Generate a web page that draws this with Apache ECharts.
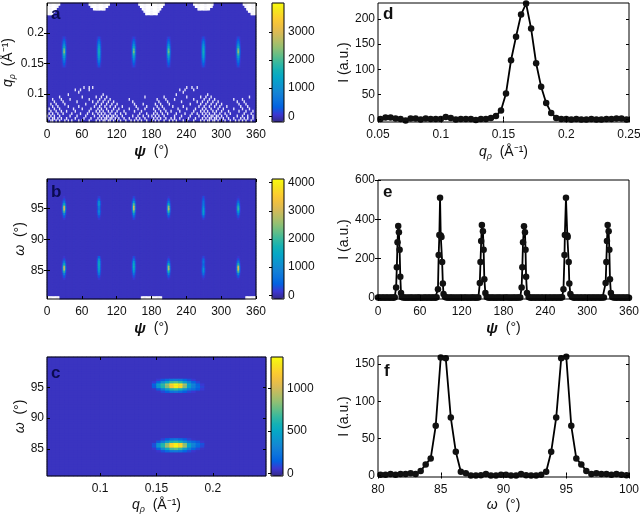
<!DOCTYPE html>
<html><head><meta charset="utf-8">
<style>html,body{margin:0;padding:0;background:#fff}#c{width:640px;height:514px}</style>
<script src="https://cdn.jsdelivr.net/npm/echarts@6/dist/echarts.min.js"></script>
</head><body><div id="c"></div>
<script>
// ---------- panel d ----------
const qD = [0.052,0.056,0.060,0.064,0.068,0.072,0.076,0.080,0.084,0.088,0.092,0.096,0.100,0.104,0.108,0.112,0.116,0.120,0.124,0.128,0.132,0.136,0.140,0.144,0.148,0.152,0.156,0.160,0.164,0.168,0.172,0.176,0.180,0.184,0.188,0.192,0.196,0.200,0.204,0.208,0.212,0.216,0.220,0.224,0.228,0.232,0.236,0.240,0.244,0.248];
const intensityD = [1,4,4,2,1,-2,2,2,0,2,1,1,1,5,3,0,1,1,1,-1,1,1,3,7,18,52,118,165,209,231,181,112,65,33,13,3,1,1,0,1,0,0,1,0,0,1,1,2,2,0];
// ---------- panel e ----------
const psiE = [0,2,4,6,8,10,12,14,16,18,20,22,24,
26,27,28,29,30,31,32,33,34,
36,38,40,42,44,46,48,50,52,54,56,58,60,62,64,66,68,70,72,74,76,78,80,82,84,
86,87,88,89,90,91,92,93,94,
96,98,100,102,104,106,108,110,112,114,116,118,120,122,124,126,128,130,132,134,136,138,140,142,144,
146,147,148,149,150.5,151.5,152.5,154,
156,158,160,162,164,166,168,170,172,174,176,178,180,182,184,186,188,190,192,194,196,198,200,202,204,
206,207,208,209.4,210.8,211.6,212.4,213.7,
216,218,220,222,224,226,228,230,232,234,236,238,240,242,244,246,248,250,252,254,256,258,260,262,264,
266,267.5,268,269.6,271.5,272,273.5,274.4,275.9,
278,280,282,284,286,288,290,292,294,296,298,300,302,304,306,308,310,312,314,316,318,320,322,324,
326.5,327.5,328.4,329.4,330.8,331.8,332.7,334,
336,338,340,342,344,346,348,350,352,354,356,358,360];
const intensityE = [2,3,1,2,3,1,2,2,1,3,2,1,4,
54,157,284,366,334,245,108,25,5,
3,2,1,2,1,2,3,1,2,1,2,2,3,1,1,2,2,1,2,3,1,2,2,1,4,
45,219,320,510,318,310,183,74,20,
6,3,2,1,2,2,1,3,1,2,1,2,2,1,3,2,1,2,1,2,2,3,1,2,3,
76,183,290,371,340,245,96,25,
5,2,1,2,3,1,2,1,2,3,1,2,1,2,2,3,1,2,1,2,2,1,3,2,3,
54,157,284,365,334,245,108,25,
5,2,1,3,2,1,2,2,1,3,2,1,2,2,1,2,3,1,2,2,1,2,3,1,4,
45,219,320,510,318,310,183,74,20,
6,3,1,2,2,1,3,2,1,2,2,1,2,3,1,2,2,1,2,3,1,2,2,3,
76,183,290,371,340,245,96,25,
5,2,2,1,3,2,1,2,2,1,3,2,1];
// ---------- panel f ----------
const omegaF = [80.2,80.6,81,81.4,81.8,82.2,82.6,83,83.4,83.8,84.2,84.6,85,85.4,85.8,86.2,86.6,87,87.4,87.8,88.2,88.6,89,89.4,89.8,90.2,90.6,91,91.4,91.8,92.2,92.6,93,93.4,93.8,94.2,94.6,95,95.4,95.8,96.2,96.6,97,97.4,97.8,98.2,98.6,99,99.4,99.8];
const intensityF = [1,1,2,1,2,2,3,2,6,15,23,67,159,158,78,32,5,3,0,0,0.5,2,0,0,1,1,0,0,2,0.5,0,0,1,5,32,78,158,160,67,23,15,6,2,3,2,2,1,2,1,0.5];
// ---------- panel a: cells that hold no data, one list of psi per q row ----------
const speckleRowsA = [
[0,6,9,15,21,30,36,42,54,60,72,84,90,96,99,105,108,114,120,126,135,144,150,156,162,171,180,186,192,201,210,216,222,234,240,252,264,270,276,279,285,288,294,300,306,315,324,330,336,342,351],
[3,9,12,18,24,33,48,63,75,87,93,99,102,108,111,117,123,132,141,153,159,168,183,189,195,204,213,219,228,243,255,267,273,279,282,288,291,297,303,312,321,333,339,345,354],
[0,6,12,21,39,51,66,81,90,96,102,105,111,114,120,129,147,156,165,174,180,186,192,201,219,231,246,261,270,276,282,285,291,294,300,309,327,336,345,354],
[3,9,18,27,42,57,69,78,87,93,99,108,117,126,135,159,171,183,189,198,207,222,237,249,258,267,273,279,288,297,306,315,339,351],
[6,15,24,33,48,72,84,90,96,105,111,120,132,150,162,186,195,204,213,228,252,264,270,276,285,291,300,312,330,342,354],
[3,12,21,45,60,75,87,93,102,114,123,141,156,168,183,192,201,225,240,255,267,273,282,294,303,321,336,348],
[9,18,36,54,81,90,99,108,117,129,153,171,189,198,216,234,261,270,279,288,297,309,333,345],
[6,15,30,66,84,93,102,111,120,150,165,186,195,210,246,264,273,282,291,300,330,342],
[12,27,51,78,87,96,105,114,147,192,207,231,258,267,276,285,294,327,339],
[9,24,39,72,90,99,108,141,189,204,219,252,270,279,288,321,336],
[21,60,84,93,102,168,201,240,264,273,282,348],
[36,96,222,276],
[54,234],
[48,57,72,228,237,252],
[63,72,78,240,249,258]];
// top notches of panel a: [row, psi from, psi to]
const notchesA = [
[49,0,22],[49,72,108],[49,157,203],[49,252,287],[49,338,360],
[48,0,19],[48,75,105],[48,160,200],[48,255,285],[48,341,360],
[47,0,16],[47,80,100],[47,163,197],[47,260,280],[47,344,360],
[46,0,13],[46,166,194],[46,347,360],
[45,0,10],[45,170,190],[45,351,360]];
// bottom-row gaps of panel b: [psi from, psi to]
const gapsB = [[0,21],[162,198],[342,360]];
// peaks of panel a: [psi, first row, centre columns, next columns, outer columns]
const peaksA = [
[30,23,[180,320,560,900,1300,1800,2400,2150,1500,1000,600,320,160],[90,150,260,420,600,800,1000,920,680,450,270,150,80],[20,40,60,100,140,180,220,200,160,110,70,40,20]],
[90,23,[220,400,680,980,1250,1450,1600,1520,1300,1000,680,400,200],[100,190,320,460,580,680,730,700,610,470,320,190,95],[25,45,75,110,140,160,170,165,145,110,75,45,25]],
[150,23,[170,310,550,880,1270,1750,2300,2050,1450,970,580,310,150],[85,145,255,410,590,780,960,880,660,440,260,145,75],[20,40,60,100,135,175,210,195,155,105,65,40,20]],
[210,23,[175,315,555,890,1280,1720,2250,2000,1450,990,590,315,155],[85,150,255,415,590,770,950,870,660,445,265,150,75],[20,40,60,100,135,175,210,190,155,105,65,40,20]],
[270,23,[215,390,670,960,1230,1420,1550,1480,1270,980,670,390,195],[100,185,315,450,570,670,710,680,600,460,315,185,90],[25,45,70,105,135,155,165,160,140,105,70,45,25]],
[330,23,[190,340,590,950,1360,1900,2550,2250,1570,1050,630,340,170],[95,160,275,440,630,840,1060,970,710,470,285,160,85],[20,40,65,105,145,190,235,215,165,115,75,40,20]]];
// peaks of panel b: same layout
const peaksB = [
[30,33,[150,420,1000,2100,3100,2900,1700,700,300,130],[100,170,380,780,1150,1080,650,280,130,80],[70,80,110,180,250,240,150,90,70,70]],
[30,8,[150,380,900,1900,2900,2750,1700,800,320,130],[100,170,350,720,1080,1030,650,310,140,80],[70,80,100,170,240,230,150,95,75,70]],
[90,33,[150,320,720,1000,730,820,1200,1080,460,190],[90,150,310,420,320,350,500,450,210,110],[70,75,95,115,95,100,130,120,85,70]],
[90,8,[150,320,720,1100,1350,1500,1600,1500,1100,460],[90,150,310,450,560,630,670,630,450,210],[70,75,95,120,140,150,160,150,120,85]],
[150,33,[230,540,1100,2000,2900,3000,2200,1180,540,230],[110,220,430,780,1100,1130,840,450,220,110],[70,85,110,180,240,250,190,115,85,70]],
[150,8,[150,320,640,1100,1450,1620,1530,1180,640,280],[90,150,270,450,590,660,620,480,270,130],[70,75,90,120,150,165,155,125,90,70]],
[210,33,[130,370,920,2000,2800,2500,1550,720,320,120],[85,160,360,750,1050,940,600,290,140,80],[70,80,100,170,230,210,140,95,75,70]],
[210,8,[130,350,860,1850,2700,2600,1650,720,320,120],[85,155,340,700,1010,980,620,290,140,80],[70,80,100,160,225,220,145,95,75,70]],
[270,33,[190,540,1180,1380,1180,900,730,640,460,280],[100,220,470,550,470,370,300,270,200,130],[70,85,115,130,115,100,90,85,80,70]],
[270,8,[120,280,640,1000,1050,730,550,680,550,230],[80,130,270,410,430,300,240,280,240,110],[70,75,90,110,115,95,85,90,85,70]],
[330,33,[130,320,780,1450,2000,1820,1180,600,240,100],[85,145,310,560,770,700,460,250,120,80],[70,75,95,130,170,155,115,85,75,70]],
[330,8,[130,370,1000,2200,3200,3050,1850,820,330,130],[85,160,390,840,1200,1150,700,330,150,85],[70,80,110,190,260,250,160,100,75,70]]];
// blobs of panel c: first row, first q column, then row-by-row values
const blobsC = [
[35,24,[
[34,40,90,150,220,240,200,140,85,55,34,34],
[40,130,260,430,600,650,570,380,250,200,130,60],
[130,400,600,800,1150,1320,1200,800,450,280,170,80],
[150,450,640,860,1220,1350,1260,880,490,300,160,60],
[60,170,340,500,680,720,640,440,280,160,80,34],
[34,60,120,180,240,260,240,170,110,60,34,34]]],
[10,24,[
[34,50,110,180,240,260,230,160,95,50,34,34],
[50,160,340,520,700,740,650,440,270,160,90,40],
[110,390,620,860,1220,1350,1240,860,490,290,170,90],
[100,370,600,830,1200,1320,1200,820,470,310,190,110],
[34,120,260,420,590,640,560,380,240,180,120,50],
[34,34,80,140,210,230,190,130,75,40,34,34]]]];
// tick labels
const psiTicks=[0,60,120,180,240,300,360], qMapTicks=[0.1,0.15,0.2], omegaMapTicks=[85,90,95];
const barTicksA=[0,1000,2000,3000], barTicksB=[0,1000,2000,3000,4000], barTicksC=[0,500,1000];
const qLineTicks=[0.05,0.1,0.15,0.2,0.25], iTicksD=[0,50,100,150,200], iTicksE=[0,200,400,600], iTicksF=[0,50,100,150], omegaLineTicks=[80,85,90,95,100];
// level of the empty background in each map
const baseA=0, baseB=70, baseC=34;

// ---------- building cells ----------
const parula=['#352a87','#3c37d2','#0363e1','#0d75dc','#1485d4','#0c97ce','#06a7c6','#15b1b4','#38b99e','#65be86','#92bf73','#b7bd64','#d9ba56','#f1c03f','#fcce2e','#f5e51d','#f9fb0e'];
const MAP_BG='#3a34bf';
function psiCells(peaks,blank,base){
  const m=new Map();
  peaks.forEach(([psi,r0,c,s,o])=>{
    const mid=Math.round(psi/1.5);
    [c,s,o].forEach((arr,k)=>arr.forEach((v,i)=>{
      m.set((mid+k)+'_'+(r0+i),v); m.set((mid-1-k)+'_'+(r0+i),v);
    }));
  });
  const out=[];
  for(let x=0;x<240;x++)for(let y=0;y<50;y++){
    if(blank.has(x+'_'+y))continue;
    const v=m.get(x+'_'+y);
    out.push([x,y,v===undefined?base:Math.max(v,base)]);
  }
  return out;
}
// blank cells: value 0 = solid gap, value 1 = isolated speckle
const blankA=new Map();
speckleRowsA.forEach((list,r)=>list.forEach(p=>{blankA.set(Math.round(p/1.5)+'_'+r,1);}));
notchesA.forEach(([r,a,b])=>{for(let c=Math.round(a/1.5);c<Math.round(b/1.5);c++)blankA.set(c+'_'+r,0);});
const blankB=new Map();
gapsB.forEach(([a,b])=>{for(let c=Math.round(a/1.5);c<Math.round(b/1.5);c++)blankB.set(c+'_0',0);});
const blankCells=m=>Array.from(m,([k,v])=>{const [x,y]=k.split('_').map(Number);return [x,y,v];});
const cellsA=psiCells(peaksA,blankA,baseA), cellsB=psiCells(peaksB,blankB,baseB);
const cMap=new Map();
blobsC.forEach(([r0,c0,rows])=>rows.forEach((row,i)=>row.forEach((v,j)=>cMap.set((c0+j)+'_'+(r0+i),v))));
const cellsC=[];
for(let x=0;x<50;x++)for(let y=0;y<50;y++){const v=cMap.get(x+'_'+y);cellsC.push([x,y,v===undefined?baseC:v]);}
const idx=n=>Array.from({length:n},(_,i)=>i);

// ---------- layout ----------
const FONT='"Liberation Sans",Arial,sans-serif', INK='#111';
const rich={i:{fontStyle:'italic',fontSize:14,fontFamily:FONT,color:INK},b:{fontStyle:'italic',fontWeight:'bold',fontSize:15,fontFamily:FONT,color:INK},s:{fontStyle:'italic',fontSize:9,fontFamily:FONT,color:INK,verticalAlign:'bottom',lineHeight:18},t:{fontSize:14,fontFamily:FONT,color:INK}};
const N_PSI='{b|ψ}{t|  (°)}', N_OM='{i|ω}{t|  (°)}', N_Q='{i|q}{s|ρ}{t|  (Å⁻¹)}', N_I='{t|I (a.u.)}';
const grids=[],xAxis=[],yAxis=[],series=[],visualMap=[];
function addGrid(r,o){
  grids.push(Object.assign({left:r[0],top:r[1],width:r[2],height:r[3],containLabel:false,outerBoundsMode:'none',show:true,z:5,backgroundColor:'transparent',borderColor:'#000',borderWidth:1},o||{}));
  return grids.length-1;
}
function valAxis(grid,pos,min,max,ticks,name,gap,margin){
  return {gridIndex:grid,type:'value',position:pos,min,max,z:6,splitLine:{show:false},
    axisLine:{show:false},
    axisTick:{show:true,inside:true,length:3,customValues:ticks,lineStyle:{color:'#000',width:1}},
    axisLabel:{show:true,customValues:ticks,color:INK,fontSize:12,fontFamily:FONT,margin:margin===undefined?7:margin,hideOverlap:false,showMinLabel:true,showMaxLabel:true,formatter:v=>String(v)},
    name:name||'',nameLocation:'middle',nameGap:gap||0,nameRotate:(pos==='left')?90:0,nameTextStyle:{rich,color:INK}};
}
// mirrored ticks on the far side of a box, no labels
function mirror(grid,pos,min,max,ticks){
  const a=valAxis(grid,pos,min,max,ticks);
  a.axisLabel={show:false};
  a.nameRotate=0;
  return a;
}
function hidden(grid,type,cfg){return Object.assign({gridIndex:grid,type,show:false},cfg);}
function boxAxes(g,xr,xt,xn,xg,yr,yt,yn,yg,ym){
  xAxis.push(valAxis(g,'bottom',xr[0],xr[1],xt,xn,xg)); yAxis.push(valAxis(g,'left',yr[0],yr[1],yt,yn,yg,ym));
  xAxis.push(mirror(g,'top',xr[0],xr[1],xt)); yAxis.push(mirror(g,'right',yr[0],yr[1],yt));
}
function mapPanel(r,cols,rows,cells,blanks,xr,xt,xn,xg,yr,yt,yn,yg,bar,barTicks){
  const gH=addGrid(r,{z:0,backgroundColor:MAP_BG,borderWidth:0});
  xAxis.push(hidden(gH,'category',{data:idx(cols)})); yAxis.push(hidden(gH,'category',{data:idx(rows)}));
  const xi=xAxis.length-1, yi=yAxis.length-1, sI=series.length;
  series.push({type:'heatmap',xAxisIndex:xi,yAxisIndex:yi,data:cells,progressive:0,animation:false,silent:true,emphasis:{disabled:true},itemStyle:{borderWidth:0}});
  visualMap.push({type:'continuous',seriesIndex:sI,dimension:2,min:bar.min,max:bar.max,left:bar.r[0],top:bar.r[1],itemWidth:bar.r[2],itemHeight:bar.r[3],padding:0,calculable:false,hoverLink:false,text:null,inRange:{color:parula},textStyle:{color:'rgba(0,0,0,0)',fontSize:1}});
  if(blanks){
    series.push({type:'heatmap',xAxisIndex:xi,yAxisIndex:yi,data:blanks,progressive:0,animation:false,silent:true,emphasis:{disabled:true},itemStyle:{borderWidth:0}});
    visualMap.push({type:'continuous',show:false,seriesIndex:sI+1,dimension:2,min:0,max:1,inRange:{color:['#ffffff','#e6e4fa']}});
  }
  const gV=addGrid(r);
  boxAxes(gV,xr,xt,xn,xg,yr,yt,yn,yg,3);
  const gB=addGrid(bar.r);
  xAxis.push(hidden(gB,'value',{min:0,max:1})); yAxis.push(valAxis(gB,'right',bar.min,bar.max,barTicks,'',0,4));
}
function linePanel(r,xs,ys,xr,xt,xn,xg,yr,yt){
  const g=addGrid(r);
  boxAxes(g,xr,xt,xn,xg,yr,yt,N_I,19,3);
  series.push({type:'line',xAxisIndex:xAxis.length-2,yAxisIndex:yAxis.length-2,data:xs.map((x,i)=>[x,ys[i]]),
    symbol:'circle',symbolSize:6.5,clip:false,animation:false,silent:true,z:3,
    lineStyle:{color:'#000',width:1.8},itemStyle:{color:'#111'}});
}
mapPanel([47,3,209,119],240,50,cellsA,blankCells(blankA),[0,360],psiTicks,N_PSI,22,[0.054,0.249],qMapTicks,N_Q,23,{r:[272,3,12,119],min:-200,max:4020},barTicksA);
mapPanel([47,179,209,120],240,50,cellsB,blankCells(blankB),[0,360],psiTicks,N_PSI,22,[80.4,99.8],omegaMapTicks,N_OM,15,{r:[272,179,12,120],min:-130,max:4130},barTicksB);
mapPanel([47,357,219,119],50,50,cellsC,null,[0.053,0.247],qMapTicks,N_Q,20,[80.6,99.9],omegaMapTicks,N_OM,15,{r:[271,357,12,119],min:-32,max:1368},barTicksC);
linePanel([378,3,251,119],qD,intensityD,[0.05,0.25],qLineTicks,N_Q,21,[-5,232],iTicksD);
linePanel([378,180,251,119],psiE,intensityE,[0,360],psiTicks,N_PSI,22,[-5,600],iTicksE);
linePanel([378,356,251,121],omegaF,intensityF,[80,100],omegaLineTicks,N_OM,21,[-2,161],iTicksF);

const panelLabels=[['a',51,6,'#0b0b50'],['b',51,184,'#0b0b50'],['c',51,365,'#0b0b50'],['d',383,6,'#111'],['e',383,184,'#111'],['f',384,363,'#111']];
const chart=echarts.init(document.getElementById('c'),null,{renderer:'canvas'});
chart.setOption({animation:false,backgroundColor:'#fff',textStyle:{fontFamily:FONT},
  grid:grids,xAxis,yAxis,series,visualMap,
  graphic:panelLabels.map(([t,l,tp,c])=>({type:'text',left:l,top:tp,z:20,style:{text:t,fill:c,font:'bold 17px '+FONT}}))});
</script>
</body></html>
